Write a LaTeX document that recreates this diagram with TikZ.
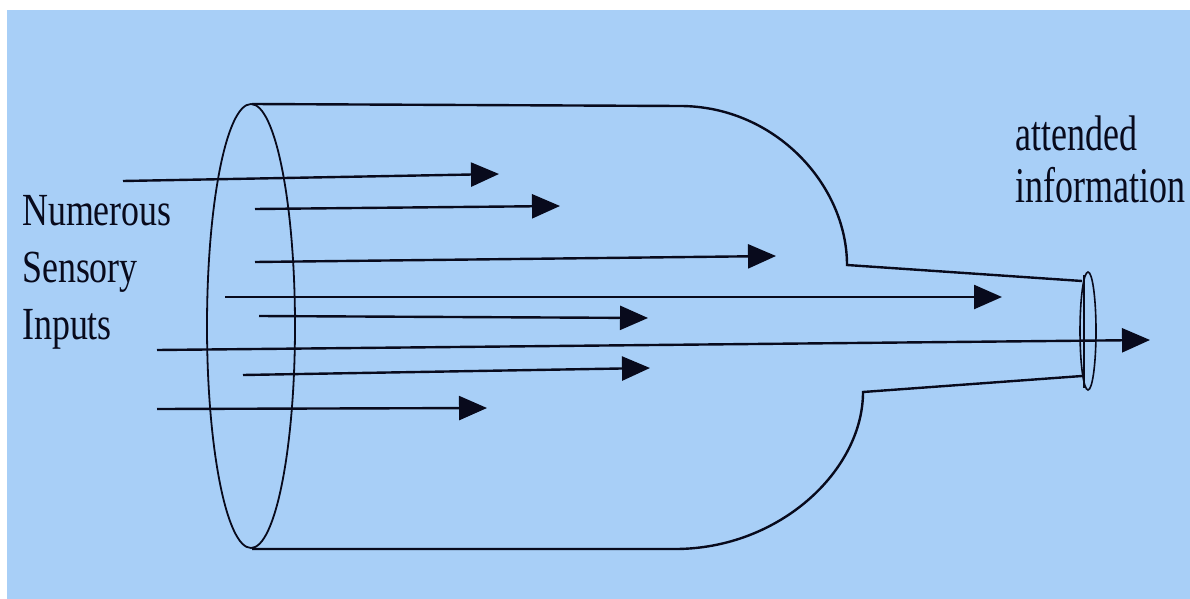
\documentclass[tikz,border=0pt]{standalone}
\usepackage{fontspec}
\setmainfont{Liberation Serif}
\usetikzlibrary{arrows.meta,shapes.geometric}
\definecolor{bgblue}{RGB}{168,207,247}
\definecolor{ink}{RGB}{8,10,28}
\tikzset{
  flow/.style={draw=ink, line width=2.4pt, -{Triangle[length=28pt,width=24pt]}},
  outline/.style={draw=ink, line width=2.4pt},
  rim/.style={draw=ink, line width=1.6pt},
  lbl/.style={anchor=base west, inner sep=0pt, text=ink}
}
\begin{document}
\begin{tikzpicture}[x=1pt,y=-1pt]
\useasboundingbox (0,0) rectangle (1190,599);
\fill[white] (0,0) rectangle (1190,599);
\fill[bgblue] (7,10) rectangle (1190,599);

% funnel outline
\node[draw=ink, line width=1.8pt, ellipse, minimum width=88pt, minimum height=444pt, inner sep=0pt] (mouth) at (251,326) {};
\coordinate (tA) at (252,104);
\coordinate (tB) at (680,106);
\coordinate (tC) at (847,265);
\coordinate (tD) at (1082,281);
\coordinate (bA) at (252,549);
\coordinate (bB) at (675,549);
\coordinate (bC) at (863,392);
\coordinate (bD) at (1082,376);
\draw[outline] (tA) -- (tB) .. controls (775,106) and (847,185) .. (tC) -- (tD);
\draw[outline] (bA) -- (bB) .. controls (780,549) and (863,470) .. (bC) -- (bD);

% narrow opening
\node[draw=ink, line width=1.6pt, ellipse, minimum width=16pt, minimum height=118pt, inner sep=0pt] (neck) at (1088,331) {};
\coordinate (nT) at (1084,275);
\coordinate (nB) at (1084,388);
\draw[rim] (nT) -- (nB);

% arrows
\coordinate (s1) at (123,181); \coordinate (e1) at (499,174);
\coordinate (s2) at (255,209); \coordinate (e2) at (560,206);
\coordinate (s3) at (255,262); \coordinate (e3) at (776,256);
\coordinate (s4) at (225,297); \coordinate (e4) at (1002,297);
\coordinate (s5) at (259,316); \coordinate (e5) at (648,318);
\coordinate (s6) at (157,350); \coordinate (e6) at (1150,340);
\coordinate (s7) at (243,375); \coordinate (e7) at (650,368);
\coordinate (s8) at (157,409); \coordinate (e8) at (487,408);
\foreach \i in {1,...,8} \draw[flow] (s\i) -- (e\i);

% labels
\node[lbl] (inputs) at (22,225) {\fontsize{46}{57}\selectfont\scalebox{0.78}[1]{\begin{tabular}[t]{@{}l@{}}Numerous\\Sensory\\Inputs\end{tabular}}};
\node[lbl] (attended) at (1015,150) {\fontsize{50}{52}\selectfont\scalebox{0.72}[1]{\begin{tabular}[t]{@{}l@{}}attended\\information\end{tabular}}};
\end{tikzpicture}
\end{document}
